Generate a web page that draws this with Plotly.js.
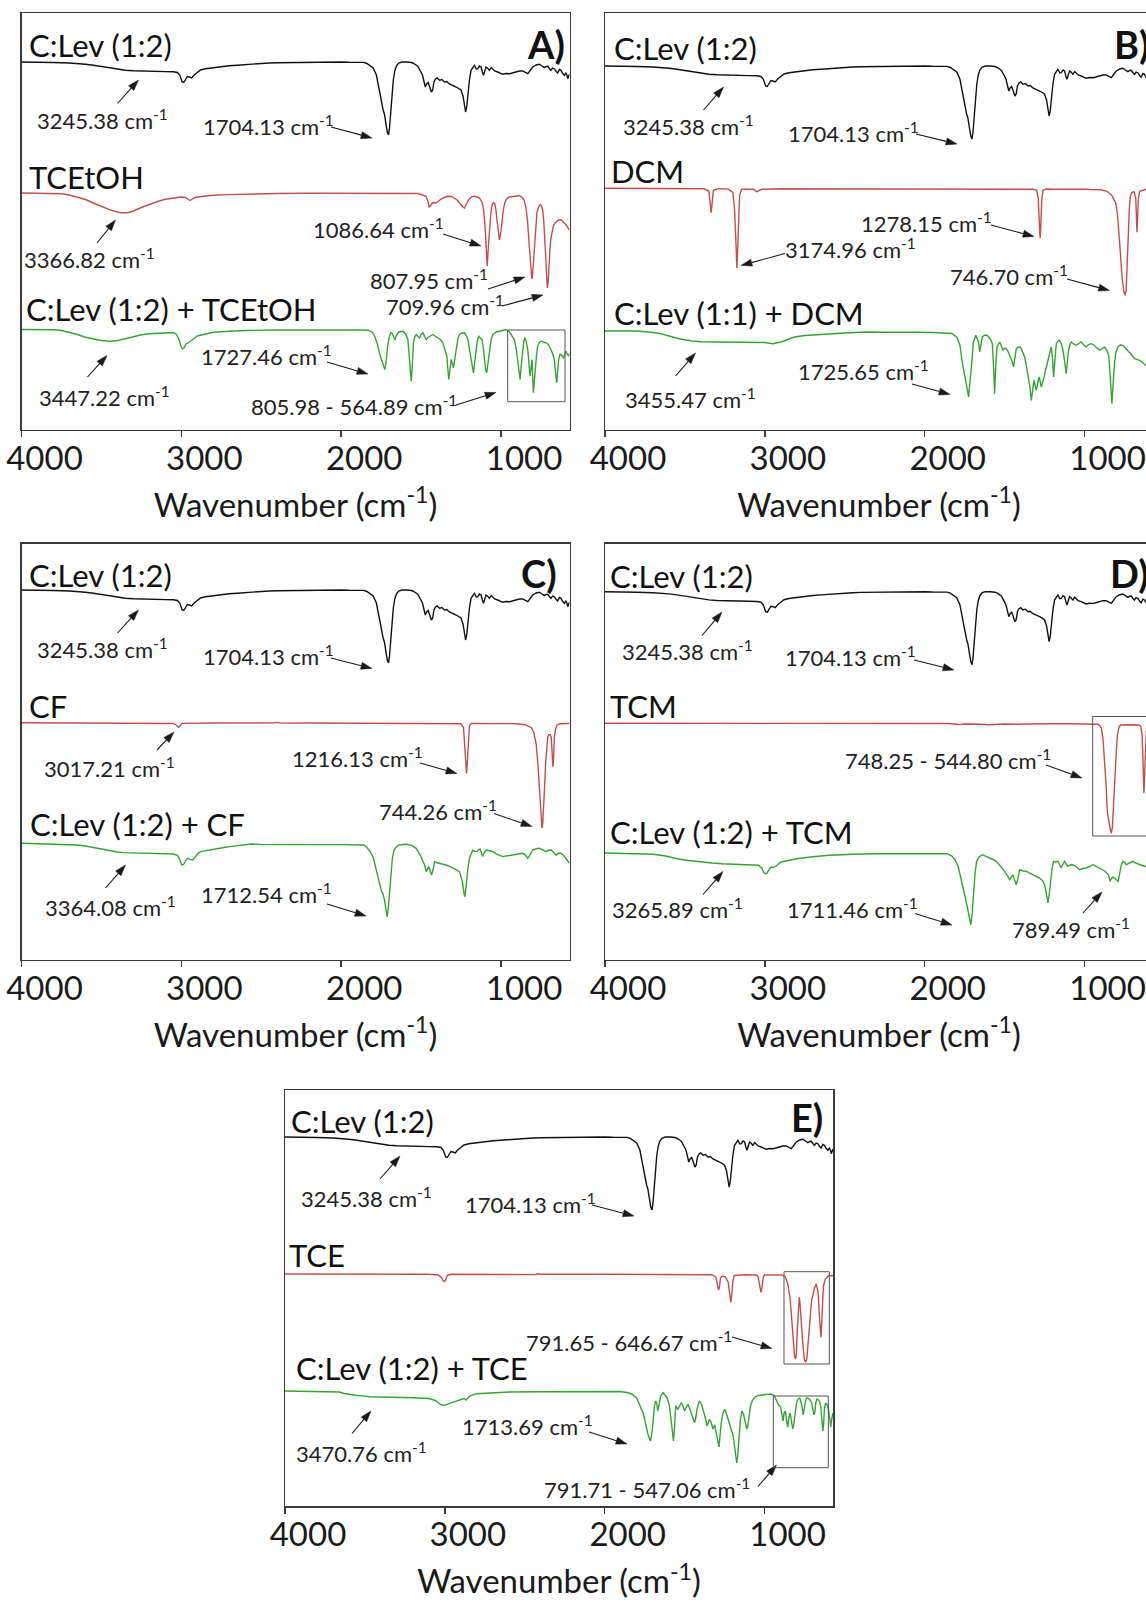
<!DOCTYPE html>
<html>
<head>
<meta charset="utf-8">
<script src="https://cdn.plot.ly/plotly-3.0.1.min.js"></script>
<style>
  html, body { margin: 0; padding: 0; overflow: hidden; background: #fff; }
  #fig { width: 1180px; height: 1603px; }
</style>
</head>
<body>
<div id="fig"></div>
<script>
// ---------- FTIR spectra: [wavenumber (cm-1), relative transmittance] ----------
const clev12 = [
  [4000,100],[3900,100],[3800,99.5],[3700,99],[3650,98.6],[3600,97.8],[3550,96.8],[3500,95.5],
  [3450,94],[3400,92.8],[3350,91.8],[3300,91.2],[3245.38,90.8],[3200,90.6],[3150,90.5],[3100,90.4],
  [3050,90.2],[3025,89.5],[3010,87],[2995,80],[2985,79.5],[2975,82],[2962,85.5],[2950,85],
  [2935,84],[2920,87],[2900,90],[2880,92],[2850,93.2],[2800,94.3],[2750,95.3],[2700,96.2],
  [2650,96.8],[2600,97.5],[2550,98],[2500,98.5],[2450,99],[2400,99.3],[2300,99.6],[2200,99.8],
  [2100,100],[2000,100],[1950,99.7],[1900,100],[1860,99.6],[1840,98.5],[1825,97],[1800,94],
  [1780,87],[1765,75],[1752,62],[1745,56],[1738,52],[1730,48],[1722,40],[1712,30],
  [1704.13,27],[1698,34],[1690,50],[1682,68],[1674,82],[1665,91],[1655,96],[1640,99],
  [1620,100],[1590,100],[1560,99.5],[1540,98],[1520,95.5],[1505,91],[1492,87],[1480,79],
  [1474,75],[1466,78],[1456,79.5],[1446,75],[1436,70],[1428,72],[1420,80],[1410,83],
  [1400,84],[1385,81.7],[1370,82.5],[1354,80],[1340,80.5],[1323,78],[1305,77],[1281,75],
  [1265,73.5],[1250,71.7],[1238,66],[1228,56],[1222,50],[1215,55],[1208,68],[1198,82],
  [1188,91.7],[1175,95.5],[1167,96.7],[1155,93],[1146,93.3],[1135,96],[1125,95],[1117,90],
  [1110,86.7],[1102,91],[1094,95],[1085,94],[1073,91.7],[1062,94.5],[1052,93.3],[1040,91],
  [1021,90],[1005,88.5],[990,87.7],[970,88.5],[948,88.3],[930,89],[906,90],[885,91],
  [865,91],[850,89.5],[833,88.3],[818,91.5],[802,95],[780,97],[760,97.7],[745,96],
  [729,94.3],[718,95.5],[708,95.7],[698,93.5],[688,91.7],[678,94],[667,93.3],[655,90.5],
  [646,89],[635,92.5],[625,91.7],[614,88.5],[604,86.7],[595,89],[588,87],[583,83.3],
  [577,86],[572,88]
];

const tcetoh = [
  [4000,100],[3850,99.7],[3750,99.3],[3700,98],[3650,96],[3600,93.5],[3550,90],[3500,86.5],
  [3450,83.3],[3400,81],[3366.82,80],[3330,80.5],[3300,82],[3250,85.5],[3200,88.7],[3150,91.5],
  [3100,93.7],[3050,95.2],[3000,96],[2975,95.5],[2955,93.5],[2945,92.5],[2935,93.5],[2915,95.5],
  [2900,96],[2850,97],[2800,97.7],[2700,98.4],[2600,99],[2400,99.5],[2200,99.7],[2000,99.8],
  [1800,99.5],[1700,99.6],[1600,99.3],[1520,99.5],[1490,98],[1470,96.7],[1458,92],[1450,86],
  [1444,86.5],[1438,88],[1430,90],[1415,90.5],[1406,90],[1390,92],[1375,94],[1350,96],
  [1333,96.7],[1310,96.5],[1292,95],[1275,93],[1260,90],[1245,87],[1235,85.5],[1229,85],
  [1222,87],[1212,91],[1203,93.3],[1185,96],[1167,96.7],[1150,96],[1135,95],[1120,91],
  [1110,84],[1100,66],[1092,40],[1086.64,27],[1080,45],[1072,64],[1064,80],[1056,88.3],
  [1048,90.5],[1040,89.5],[1032,83],[1025,72],[1018,60],[1010,53],[1002,60],[994,73.3],
  [985,84],[975,91],[969,93.3],[950,96],[927,96.7],[900,97.2],[885,97.3],[870,96],
  [856,93],[845,86],[835,73],[825,50],[817,30],[811,18],[807.95,14],[803,18],
  [797,32],[790,50],[783,68],[776,80],[766,86],[756,88.3],[748,87.5],[740,83.3],
  [733,72],[726,55],[720,34],[714,14],[709.96,5],[705,12],[700,30],[694,45],
  [688,55],[680,63],[673,67],[662,70],[652,71.7],[640,73],[625,73.3],[610,71],
  [594,68.3],[583,65.5],[572,63]
];

const clevTcetoh = [
  [4000,100],[3900,100],[3800,99.7],[3750,99],[3700,97.3],[3650,95],[3600,92.3],[3550,90.3],
  [3500,89],[3447.22,88.3],[3400,89],[3350,90.7],[3300,92.8],[3250,94.7],[3200,95.7],[3150,96.3],
  [3100,96.7],[3050,97],[3030,95],[3015,90],[3000,82],[2993,80.7],[2982,82],[2970,85.7],
  [2955,87],[2940,88.5],[2920,91],[2900,93.5],[2850,95.5],[2800,97.3],[2700,98.3],[2600,99],
  [2400,99.5],[2200,99.7],[2000,99.7],[1880,99.5],[1830,99.3],[1805,97],[1790,93],[1775,86],
  [1760,76],[1745,68],[1735,63],[1727.46,60],[1720,66],[1712,80],[1700,92],[1690,96.7],
  [1680,96],[1672,91.7],[1664,89.5],[1656,94],[1640,97.5],[1614,98.3],[1595,95],[1583,90],
  [1572,70],[1565,52],[1562,48.3],[1557,60],[1548,86.7],[1540,93],[1531,95],[1520,93],
  [1510,91.7],[1500,95],[1489,96.7],[1478,93],[1468,90],[1458,92],[1447,93.3],[1435,94],
  [1426,95],[1410,93],[1395,91.7],[1380,90],[1364,86.7],[1350,80],[1339,73.3],[1333,60],
  [1327,50],[1320,60],[1312,70],[1305,66],[1298,61.7],[1290,70],[1281,80],[1270,91],
  [1260,95],[1245,96.5],[1229,96.7],[1218,94],[1208,90],[1198,80],[1188,70],[1180,60],
  [1173,56.7],[1165,68],[1156,80],[1148,89],[1140,93.3],[1130,92],[1119,90],[1110,80],
  [1104,70],[1097,60],[1090,56.7],[1082,68],[1073,80],[1062,90],[1052,95],[1030,97.5],
  [1010,98.3],[990,99.5],[969,100],[950,98],[938,95],[925,92],[917,90],[905,80],
  [896,70],[888,58],[881,50],[875,62],[865,80],[858,88],[852,91.7],[843,88],
  [833,80],[825,66],[819,53.3],[812,62],[806,70],[802,55],[798,36.7],[792,48],
  [785,63.3],[778,75],[771,83.3],[760,87],[750,88.3],[735,87.5],[719,86.7],[705,85],
  [695,82.5],[688,80],[676,75],[667,70],[660,58],[652,46.7],[646,58],[640,70],
  [632,75],[625,75],[617,73],[610,71.7],[602,75],[594,78.3],[585,75],[577,73.3],[572,76]
];

const dcm = [
  [4000,100],[3600,99.8],[3450,99.8],[3380,99.5],[3350,97],[3342,85],[3336,75.7],[3330,85],
  [3322,98],[3290,99.6],[3230,99.2],[3200,96],[3190,80],[3182,50],[3177,28],[3174.96,20],
  [3172,30],[3166,65],[3158,93],[3145,99],[3100,99.4],[3070,99],[3060,97.5],[3050,96.7],
  [3040,97.5],[3020,99],[2900,99.6],[2700,99.5],[2500,99.7],[2300,99.6],[2100,99.7],[1900,99.4],
  [1800,99.5],[1600,99.3],[1500,99.5],[1400,99.3],[1320,99],[1300,98],[1290,90],[1283,65],
  [1278.15,50],[1274,62],[1268,88],[1260,98],[1240,99.3],[1180,99],[1100,99.4],[1000,99.2],
  [960,98.8],[900,98.5],[860,97],[830,93],[805,85],[795,75],[785,55],[775,30],
  [765,10],[755,-3],[746.70,-7],[740,-2],[733,20],[726,55],[720,80],[714,92],
  [705,96],[690,96.5],[680,90],[675,70],[672,56],[669,68],[664,90],[655,97],
  [620,98.8],[572,99.3]
];

const clev11Dcm = [
  [4000,100],[3800,100],[3700,98.5],[3650,97.3],[3600,95],[3537,92.3],[3455.47,90],[3400,89.3],
  [3300,89],[3200,89],[3100,89],[3000,88.5],[2950,87.3],[2920,88],[2900,89],[2880,90],
  [2850,92],[2815,94],[2750,95.5],[2650,96.8],[2589,97.3],[2500,98],[2400,98.7],[2363,99],
  [2250,98.8],[2156,99],[2050,98.8],[1950,98.5],[1885,98.3],[1830,97.5],[1800,94],[1780,86],
  [1767,70.7],[1746,50.7],[1725.65,34],[1710,60.7],[1695,89],[1680,95.7],[1673,92.3],[1662,88],
  [1656,79],[1648,88],[1640,94],[1625,95.7],[1610,95.7],[1590,92],[1577,87.3],[1568,60],
  [1563,37.3],[1557,60],[1548,84],[1531,89],[1520,85],[1510,80.7],[1500,83],[1490,82.3],
  [1480,80],[1469,76],[1455,70],[1444,64.3],[1436,72],[1427,82.3],[1415,84],[1402,84],
  [1390,80],[1375,74],[1365,66],[1354,57.3],[1343,45],[1333,30.7],[1325,40],[1317,50.7],
  [1310,46],[1302,40.7],[1293,48],[1285,54],[1278,50],[1271,44],[1260,50],[1250,57.3],
  [1240,64],[1229,70.7],[1218,78],[1208,84],[1200,72],[1194,54],[1188,70],[1177,87.3],
  [1166,90],[1156,90.7],[1145,87],[1135,80.7],[1125,70],[1115,57.3],[1107,70],[1100,80.7],
  [1090,87],[1083,89],[1068,87],[1052,85.7],[1036,87.5],[1021,89],[1005,86],[990,84],
  [975,86.5],[958,87.3],[942,86],[927,84],[916,82],[906,80.7],[890,82.5],[875,84],
  [858,80],[848,74],[840,55],[834,35],[829,27.3],[824,40],[818,58],[813,67.3],
  [805,78],[792,84],[776,86],[760,85.7],[740,82],[719,79],[705,76],[688,72.3],
  [672,71.5],[656,70.7],[640,69],[619,65.7],[600,63],[572,60.7]
];

const cf = [
  [4000,100],[3600,99.8],[3300,99.7],[3100,99.6],[3050,99.2],[3030,97.5],[3017.21,95.3],[3008,97],
  [2995,99.3],[2800,99.7],[2600,99.5],[2420,99.8],[2400,100.3],[2380,99.6],[2200,99.7],[2000,99.6],
  [1800,99.7],[1600,99.5],[1400,99.6],[1300,99.5],[1250,99],[1235,95],[1225,75],[1219,55],
  [1216.13,49.3],[1212,58],[1206,82],[1198,97],[1185,99.3],[1100,99.2],[1000,99.5],[950,99.3],
  [900,99],[850,98],[810,95],[795,90],[780,78],[770,59],[760,30],[752,8],
  [747,-2],[744.26,-5.5],[740,-2],[735,10],[728,35],[722,58],[715,76],[708,86],
  [700,88],[692,88],[686,85],[680,65],[676,56],[672,62],[667,85],[660,93],
  [650,97.7],[630,99],[600,99.3],[572,99.2]
];

const clevCf = [
  [4000,100],[3900,99.7],[3750,99.3],[3650,98.3],[3600,97.3],[3550,95.8],[3500,94],[3450,92.5],
  [3400,91.3],[3364.08,90.7],[3300,90.3],[3250,90],[3150,89.7],[3050,89.3],[3025,88],[3010,84],
  [2997,78.3],[2985,79],[2972,83],[2960,85],[2945,84],[2930,83.3],[2915,86],[2895,90],
  [2880,91.7],[2840,93],[2800,94],[2750,95.3],[2700,96.7],[2620,97.8],[2560,99.3],[2500,98.9],
  [2400,98.7],[2300,98.8],[2200,98.7],[2000,98.7],[1900,98.7],[1860,98.3],[1840,96],[1820,92],
  [1800,86],[1785,76],[1770,64],[1758,57],[1748,52],[1740,50],[1730,44],[1720,34],
  [1712.54,26.7],[1705,36],[1697,52],[1688,70],[1680,85],[1670,93],[1655,96.5],[1640,98.3],
  [1593,99],[1560,98],[1531,95],[1505,88],[1489,81.7],[1478,78],[1468,71.7],[1460,75],
  [1452,76.7],[1443,72],[1435,68.3],[1425,74],[1416,81.7],[1400,80.5],[1385,80],[1365,79],
  [1344,78.3],[1322,77],[1302,75],[1280,73.5],[1260,71.7],[1248,66],[1240,60],[1232,50],
  [1227,46.7],[1220,55],[1215,65],[1206,77],[1198,85],[1188,90],[1177,93.3],[1165,92],
  [1152,91.7],[1142,93.5],[1131,94.3],[1122,90],[1115,86.7],[1104,91],[1094,93.3],[1072,92.5],
  [1052,91.7],[1030,89.5],[1010,88],[990,86.7],[960,87.5],[927,88.3],[900,89.5],[865,90],
  [850,88.5],[833,85],[818,89],[802,93.3],[780,94.5],[760,95],[740,93.5],[719,91.7],
  [705,93],[688,93.3],[672,91],[656,88.3],[640,90],[625,90],[610,88],[594,85],
  [583,82.5],[572,80]
];

const tcm = [
  [4000,100],[3500,99.8],[3000,99.7],[2500,99.8],[2000,99.7],[1850,99.8],[1800,99],[1780,98.7],
  [1750,99.3],[1700,99.5],[1650,99],[1600,98.5],[1560,98.9],[1500,99.3],[1450,99],[1400,99.3],
  [1300,99.2],[1250,99.5],[1100,99.6],[1000,99.6],[950,99.5],[920,99],[906,98],[895,95],
  [885,85],[875,65],[866,40],[858,12],[854,6.7],[848,2],[840,-5],[833,-10],
  [826,-4],[818,15],[810,45],[802,70],[795,88],[785,96],[775,98.3],[700,98.5],
  [660,98.3],[648,97],[640,88],[634,60],[629,30],[625,45],[620,75],[614,92],
  [605,97],[572,97.5]
];

const clevTcm = [
  [4000,100],[3850,99.7],[3700,98.7],[3620,97],[3550,94.3],[3480,92.5],[3400,91],[3330,90],
  [3265.89,89.3],[3200,88.8],[3100,88.3],[3040,87.7],[3020,85],[3005,80],[2995,79.3],[2985,80],
  [2972,84],[2960,86],[2945,85.5],[2930,87],[2900,91],[2850,93],[2800,94.3],[2700,96.3],
  [2600,97.7],[2450,98.7],[2300,99.3],[2100,99.3],[1900,99.3],[1860,99.3],[1830,97],[1810,93.3],
  [1790,86],[1770,73.3],[1750,58],[1735,47],[1722,38],[1711.46,28.3],[1703,40],[1695,60],
  [1685,80],[1675,91.7],[1660,96],[1640,98.3],[1615,96.7],[1580,94],[1552,91.7],[1525,87],
  [1500,81.7],[1485,78],[1469,73.3],[1458,76],[1448,78.3],[1438,73],[1427,68.3],[1418,74],
  [1406,83.3],[1385,82],[1365,81.7],[1345,80],[1323,78.3],[1300,76.5],[1281,75],[1262,72],
  [1250,68.3],[1240,60],[1229,50],[1220,60],[1213,73.3],[1204,84],[1194,91.7],[1180,91],
  [1167,91.7],[1155,88],[1146,85],[1135,89],[1125,91.7],[1115,89],[1104,86.7],[1090,88],
  [1073,88.3],[1050,86],[1031,83.3],[1010,84.5],[990,85],[970,86.5],[948,88.3],[925,86.5],
  [906,85],[893,84],[875,82],[862,80],[850,78],[840,71.7],[832,74.5],[822,76],
  [812,75],[800,73],[789.49,71.7],[780,80],[770,88.3],[760,91.7],[745,90],[740,88.3],
  [720,90],[698,91.7],[680,90],[656,88.3],[640,87.5],[619,86.7],[600,86],[572,85]
];

const tce = [
  [4000,100],[3100,99.8],[3040,99],[3020,96],[3010,93],[3002,92.5],[2995,94],[2985,98.5],
  [2960,99.7],[2500,99.8],[2430,99.4],[2420,100.2],[2400,99.7],[2000,99.7],[1600,99.6],[1400,99.6],
  [1330,99.3],[1305,97],[1295,91],[1288,84],[1282,87],[1276,96],[1265,98],[1245,97],
  [1228,92],[1218,80],[1211,71.7],[1205,80],[1198,93],[1190,98.5],[1120,99.2],[1050,99],
  [1040,97],[1030,88],[1022,81.7],[1015,88],[1008,97],[1000,99],[920,99.3],[890,99],
  [870,97],[855,90],[840,75],[828,50],[818,28],[812,17],[806,15],[801,20],
  [795,45],[789,70],[783,76.7],[778,70],[770,50],[760,28],[750,14],[743,11.7],
  [736,15],[731,25],[727,40],[722,42],[715,55],[705,75],[698,78.3],[690,85],
  [677,90],[665,82],[656,55],[646.67,36.7],[640,60],[632,88],[620,95],[600,98.3],[572,98.3]
];

const clevTce = [
  [4000,100],[3800,99.7],[3700,99.3],[3660,99],[3630,97.5],[3600,96.6],[3550,95.5],[3500,94.9],
  [3470.76,94.2],[3400,94],[3300,93.9],[3200,93.3],[3100,92.5],[3060,90.5],[3040,88],[3020,86],
  [3005,85.7],[2990,86.5],[2970,88],[2950,88.5],[2920,90.5],[2900,91.5],[2880,92.5],[2868,91],
  [2860,92.5],[2845,95],[2800,97.3],[2700,98.3],[2600,99],[2400,99.2],[2200,99.3],[2000,99.3],
  [1906,99.5],[1860,98.5],[1830,97],[1800,93],[1780,86],[1760,78],[1745,68],[1730,57],
  [1713.69,50],[1705,58],[1697,70],[1690,84],[1682,90],[1675,88],[1668,80],[1660,86],
  [1650,95],[1635,98.3],[1610,93.3],[1595,85],[1585,70],[1576,55],[1570,50],[1564,62],
  [1556,85],[1542,81.7],[1530,86],[1521,88.3],[1510,85],[1500,80],[1490,84],[1479,86.7],
  [1468,82],[1458,76.7],[1448,72],[1438,68.3],[1430,74],[1423,81.7],[1412,88],[1406,90],
  [1395,87],[1385,81.7],[1372,74],[1360,65],[1350,70],[1344,71.7],[1333,68],[1323,62],
  [1312,66],[1302,58.3],[1293,50],[1285,44],[1279,55],[1271,68.3],[1260,78],[1250,81.7],
  [1240,78],[1229,71.7],[1218,66],[1208,61.7],[1196,55],[1188,45],[1180,35],[1174,28],
  [1168,35],[1160,55],[1152,70],[1142,80],[1132,77],[1122,70],[1112,62],[1106,64],
  [1098,75],[1088,85],[1075,91],[1060,94],[1040,95.5],[1000,96.5],[960,97],[940,95.5],
  [925,91],[912,86],[900,84],[890,75],[884,70],[878,78],[870,80],[862,70],
  [855,64],[848,73],[840,78],[832,70],[824,62],[818,66],[810,78],[800,88],
  [790,92],[780,93],[770,88],[764,80],[758,76],[752,82],[745,90],[735,93],
  [720,92],[705,88],[698,82],[692,76],[686,78],[680,88],[672,92],[662,91],
  [655,89],[648,84],[642,72],[636,60],[631,66],[626,82],[618,88],[608,86],
  [598,80],[592,70],[586,64],[580,72],[572,78]
];

// ---------- axis ticks ----------
const tickWn = [4000, 3000, 2000, 1000];
const tickText = ['4000', '3000', '2000', '1000'];
const wnRange = [4000, 572];

// ---------- labelled bands (cm-1) ----------
const peaksA = ['3245.38', '1704.13', '3366.82', '1086.64', '807.95', '709.96', '3447.22', '1727.46', '805.98 - 564.89'];
const peaksB = ['3245.38', '1704.13', '1278.15', '3174.96', '746.70', '3455.47', '1725.65'];
const peaksC = ['3245.38', '1704.13', '3017.21', '1216.13', '744.26', '3364.08', '1712.54'];
const peaksD = ['3245.38', '1704.13', '748.25 - 544.80', '3265.89', '1711.46', '789.49'];
const peaksE = ['3245.38', '1704.13', '791.65 - 646.67', '3470.76', '1713.69', '791.71 - 547.06'];

// ---------- figure geometry ----------
const W = 1180, H = 1603;
const px = x => x / W;
const py = y => 1 - y / H;

const BLACK = '#111111', RED = '#c0504d', GREEN = '#36a336';
const FONT = 'Lato, "Open Sans", sans-serif';

const panels = [
  { tag: 'A)', tagPos: [567, 44], x0: 21.5, x1: 569.5, top: 13.3, bottom: 429.5,
    rows: [
      { name: 'C:Lev (1:2)', data: clev12, color: BLACK, base: 62, lab: [26.6, 45] },
      { name: 'TCEtOH', data: tcetoh, color: RED, base: 193, lab: [26.6, 177] },
      { name: 'C:Lev (1:2) + TCEtOH', data: clevTcetoh, color: GREEN, base: 329.5, lab: [23.5, 309] }
    ],
    peaks: peaksA,
    notes: [ // text centre, arrow tail, arrow head (px)
      [[102, 120], [117.5, 103.5], [138.5, 80]],
      [[268.5, 125.5], [331, 127], [372, 138]],
      [[89.5, 258], [97, 243], [115.5, 220]],
      [[378, 228], [443, 234], [481, 246]],
      [[429, 279], [488, 289], [525, 277]],
      [[445, 305], [502, 306], [543, 295]],
      [[104.5, 396.5], [87.5, 377], [107, 355.5]],
      [[266.5, 355.5], [327, 362], [368, 374]],
      [[353.5, 405], [456, 405], [496, 392.5]]
    ],
    boxes: [[507.7, 330, 565, 401.7]] },
  { tag: 'B)', tagPos: [1151, 44], x0: 605, x1: 1153, top: 13.3, bottom: 429.5,
    rows: [
      { name: 'C:Lev (1:2)', data: clev12, color: BLACK, base: 66, lab: [612, 48] },
      { name: 'DCM', data: dcm, color: RED, base: 188.3, lab: [609, 171] },
      { name: 'C:Lev (1:1) + DCM', data: clev11Dcm, color: GREEN, base: 331, lab: [612, 313] }
    ],
    peaks: peaksB,
    notes: [
      [[688.5, 126], [703.5, 110], [723.5, 87]],
      [[853, 133], [916, 134], [957, 144]],
      [[926, 223], [991, 225], [1034, 236.5]],
      [[850, 248.5], [785, 253.5], [741, 265.5]],
      [[1008.5, 275], [1067, 279], [1109.5, 290.5]],
      [[690.5, 398], [675.5, 376], [695.5, 353]],
      [[863.5, 370], [912, 384], [950, 394.5]]
    ],
    boxes: [] },
  { tag: 'C)', tagPos: [559, 573], x0: 21.5, x1: 569.5, top: 543.5, bottom: 959.5,
    rows: [
      { name: 'C:Lev (1:2)', data: clev12, color: BLACK, base: 590, lab: [26.6, 575] },
      { name: 'CF', data: cf, color: RED, base: 722.7, lab: [26.6, 706] },
      { name: 'C:Lev (1:2) + CF', data: clevCf, color: GREEN, base: 843.3, lab: [27.7, 824] }
    ],
    peaks: peaksC,
    notes: [
      [[102, 648.5], [117.5, 633], [138.5, 610]],
      [[268, 655], [331, 658], [372, 668.5]],
      [[109, 767], [157, 750], [174, 732]],
      [[357.5, 757.5], [420, 763], [457, 773.5]],
      [[438, 810.5], [494, 813.5], [532, 826.5]],
      [[110, 906.5], [105.5, 888], [125.5, 865]],
      [[266, 893.5], [327, 904], [366, 916]]
    ],
    boxes: [] },
  { tag: 'D)', tagPos: [1151, 573], x0: 605, x1: 1153, top: 543.5, bottom: 959.5,
    rows: [
      { name: 'C:Lev (1:2)', data: clev12, color: BLACK, base: 591.7, lab: [608, 576] },
      { name: 'TCM', data: tcm, color: RED, base: 723.3, lab: [608, 706] },
      { name: 'C:Lev (1:2) + TCM', data: clevTcm, color: GREEN, base: 853, lab: [608, 832] }
    ],
    peaks: peaksD,
    notes: [
      [[687, 650.5], [702, 635.5], [722, 612]],
      [[850, 657], [914, 660], [954, 670]],
      [[948, 759], [1046, 765], [1082, 778]],
      [[677.5, 909], [703, 894.5], [723, 871.5]],
      [[852.5, 908], [915, 913.5], [952, 925]],
      [[1071, 928.5], [1083, 913], [1102, 892]]
    ],
    boxes: [[1092.7, 716.5, 1162, 836]] },
  { tag: 'E)', tagPos: [825, 1117], x0: 285, x1: 833, top: 1090, bottom: 1506,
    rows: [
      { name: 'C:Lev (1:2)', data: clev12, color: BLACK, base: 1137, lab: [288.5, 1121] },
      { name: 'TCE', data: tce, color: RED, base: 1274, lab: [286.6, 1255] },
      { name: 'C:Lev (1:2) + TCE', data: clevTce, color: GREEN, base: 1391, lab: [294, 1368] }
    ],
    peaks: peaksE,
    notes: [
      [[366, 1197], [380, 1179], [400, 1156]],
      [[530.5, 1203.5], [592, 1205], [634, 1216]],
      [[628.5, 1341], [732, 1337], [772, 1348.5]],
      [[361, 1452.5], [352, 1433.5], [371, 1411]],
      [[527, 1425], [589, 1432], [627, 1444]],
      [[647, 1488.5], [758, 1486.5], [776.5, 1465]]
    ],
    boxes: [[784, 1271.7, 829.3, 1364], [773.3, 1396, 828.3, 1467.7]] }
];

const traces = [];
const annotations = [];
const shapes = [];
const layout = {
  width: W, height: H,
  margin: { l: 0, r: 0, t: 0, b: 0 },
  paper_bgcolor: '#ffffff', plot_bgcolor: '#ffffff',
  showlegend: false,
  font: { family: FONT, color: '#1a1a1a' },
  annotations, shapes
};

// arrow = straight shaft plus a filled triangular head, drawn in figure pixels
function addArrow(tail, head) {
  const HEAD_LEN = 11, HALF_W = 3.6;
  const dx = head[0] - tail[0], dy = head[1] - tail[1];
  const len = Math.hypot(dx, dy);
  const ux = dx / len, uy = dy / len;
  const bx = head[0] - ux * HEAD_LEN, by = head[1] - uy * HEAD_LEN;
  const nx = -uy * HALF_W, ny = ux * HALF_W;
  shapes.push({
    type: 'line', xref: 'paper', yref: 'paper',
    x0: px(tail[0]), y0: py(tail[1]), x1: px(bx), y1: py(by),
    line: { color: '#1a1a1a', width: 1.1 }
  });
  const pts = [[head[0], head[1]], [bx + nx, by + ny], [bx - nx, by - ny]];
  shapes.push({
    type: 'path', xref: 'paper', yref: 'paper',
    path: 'M' + pts.map(q => px(q[0]) + ',' + py(q[1])).join(' L') + ' Z',
    fillcolor: '#1a1a1a', line: { color: '#1a1a1a', width: 0.5 }
  });
}

panels.forEach((p, i) => {
  const n = i === 0 ? '' : String(i + 1);
  const xa = 'x' + n, ya = 'y' + n;
  const span = p.bottom - p.top;

  layout['xaxis' + n] = {
    domain: [px(p.x0), px(p.x1)], anchor: ya,
    range: wnRange, autorange: false, fixedrange: true, automargin: false,
    tickmode: 'array', tickvals: tickWn, ticktext: tickText,
    ticks: 'outside', ticklen: 6, tickwidth: 1.5, tickcolor: '#3a3a3a',
    showline: true, linecolor: '#3a3a3a', linewidth: 1.5, mirror: true,
    showgrid: false, zeroline: false,
    tickfont: { family: FONT, size: 33, color: '#1a1a1a' },
    ticklabelshift: -23, ticklabelstandoff: -7,
    title: { text: 'Wavenumber (cm<sup>-1</sup>)', font: { family: FONT, size: 33, color: '#1a1a1a' }, standoff: 18 }
  };
  layout['yaxis' + n] = {
    domain: [py(p.bottom), py(p.top)], anchor: xa,
    range: [0, span], autorange: false, fixedrange: true, automargin: false,
    showline: true, linecolor: '#3a3a3a', linewidth: 1.5, mirror: true,
    ticks: '', showticklabels: false, showgrid: false, zeroline: false
  };

  p.rows.forEach(r => {
    const offset = (p.bottom - r.base) - 100;
    traces.push({
      type: 'scatter', mode: 'lines', name: r.name, xaxis: xa, yaxis: ya,
      x: r.data.map(d => d[0]),
      y: r.data.map(d => d[1] + offset),
      line: { color: r.color, width: 1.4 },
      hoverinfo: 'skip'
    });
    annotations.push({
      xref: 'paper', yref: 'paper', x: px(r.lab[0]), y: py(r.lab[1]),
      xanchor: 'left', yanchor: 'middle', showarrow: false,
      text: r.name, font: { family: FONT, size: 31, color: '#111' }
    });
  });

  annotations.push({
    xref: 'paper', yref: 'paper', x: px(p.tagPos[0]), y: py(p.tagPos[1]),
    xanchor: 'right', yanchor: 'middle', showarrow: false,
    text: '<b>' + p.tag + '</b>', font: { family: FONT, size: 38, color: '#111' }
  });

  p.notes.forEach((nt, k) => {
    const [c, tail, head] = nt;
    annotations.push({
      xref: 'paper', yref: 'paper', x: px(c[0]), y: py(c[1]),
      xanchor: 'center', yanchor: 'middle', showarrow: false,
      text: p.peaks[k] + ' cm<sup>-1</sup>', font: { family: FONT, size: 22, color: '#222' }
    });
    addArrow(tail, head);
  });

  p.boxes.forEach(b => {
    shapes.push({
      type: 'rect', xref: 'paper', yref: 'paper',
      x0: px(b[0]), x1: px(b[2]), y0: py(b[3]), y1: py(b[1]),
      line: { color: '#555555', width: 1 }, fillcolor: 'rgba(0,0,0,0)'
    });
  });
});

Plotly.newPlot('fig', traces, layout, { staticPlot: true, displayModeBar: false });
</script>
</body>
</html>
